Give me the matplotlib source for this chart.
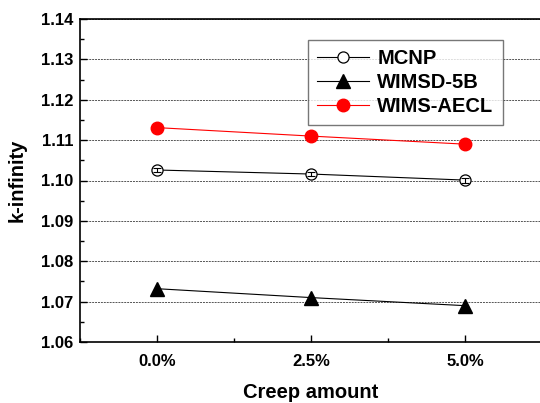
import matplotlib
matplotlib.use("Agg")
import matplotlib.pyplot as plt
from matplotlib.ticker import MultipleLocator

# ── Data ──────────────────────────────────────────────────────────────────────
creep_pos    = [0.0, 2.5, 5.0]
creep_labels = ["0.0%", "2.5%", "5.0%"]
mcnp         = [1.1026, 1.1016, 1.1001]
mcnp_err     = [0.0006, 0.0006, 0.0006]
wimsd5b      = [1.0732, 1.0710, 1.0690]
wims_aecl    = [1.1131, 1.1110, 1.1090]

plt.rcParams["font.family"] = ["Liberation Sans", "DejaVu Sans"]
plt.rcParams["font.weight"] = "bold"

fig = plt.figure(figsize=(5.4, 4.03), dpi=100)
ax = fig.add_axes([80 / 540, 61 / 403, 462 / 540, 323 / 403])

h_mcnp, = ax.plot(creep_pos, mcnp, color="black", lw=0.8, marker="o", ms=8,
                  mfc="white", mec="black", mew=0.9, label="MCNP", zorder=3)
# statistical error bars drawn over the open markers
ax.errorbar(creep_pos, mcnp, yerr=mcnp_err, fmt="none", ecolor="black",
            elinewidth=0.8, capsize=3, capthick=0.8, zorder=4)
h_wd, = ax.plot(creep_pos, wimsd5b, color="black", lw=0.8, marker="^", ms=10,
                mfc="black", mec="black", label="WIMSD-5B", zorder=3)
h_wa, = ax.plot(creep_pos, wims_aecl, color="red", lw=0.8, marker="o", ms=9,
                mfc="red", mec="red", label="WIMS-AECL", zorder=3)

ax.set_xlim(-1.25, 6.25)
ax.set_ylim(1.06, 1.14)
ax.set_xticks(creep_pos)
ax.set_xticklabels(creep_labels)
ax.xaxis.set_minor_locator(MultipleLocator(1.25))
ax.yaxis.set_major_locator(MultipleLocator(0.01))
ax.yaxis.set_minor_locator(MultipleLocator(0.005))
ax.yaxis.set_major_formatter(plt.FormatStrFormatter("%.2f"))

ax.tick_params(which="both", direction="in", top=False, right=False,
               labelsize=12, width=1.0)
ax.tick_params(which="major", length=5)
ax.tick_params(which="minor", length=3)
ax.tick_params(axis="x", pad=9)
ax.tick_params(axis="y", pad=5)
for lab in ax.get_xticklabels() + ax.get_yticklabels():
    lab.set_fontweight("bold")
for s in ax.spines.values():
    s.set_linewidth(1.2)

ax.grid(axis="y", which="major", color="#555555", lw=0.7,
        linestyle=(0, (2, 1)), zorder=0)

ax.set_xlabel("Creep amount", fontsize=14.5, fontweight="bold", labelpad=10)
ax.set_ylabel("k-infinity", fontsize=14.5, fontweight="bold", labelpad=10)

leg = ax.legend(handles=[h_mcnp, h_wd, h_wa], loc="upper left",
                bbox_to_anchor=(228 / 462, 1 - 21 / 323),
                fontsize=14.5, frameon=True, fancybox=False, handlelength=2.6,
                borderpad=0.45, labelspacing=0.25, handletextpad=0.4,
                borderaxespad=0)
leg.get_frame().set_edgecolor("#555555")
leg.get_frame().set_linewidth(1.0)
for t in leg.get_texts():
    t.set_fontweight("bold")

fig.savefig("out.png", dpi=100)
